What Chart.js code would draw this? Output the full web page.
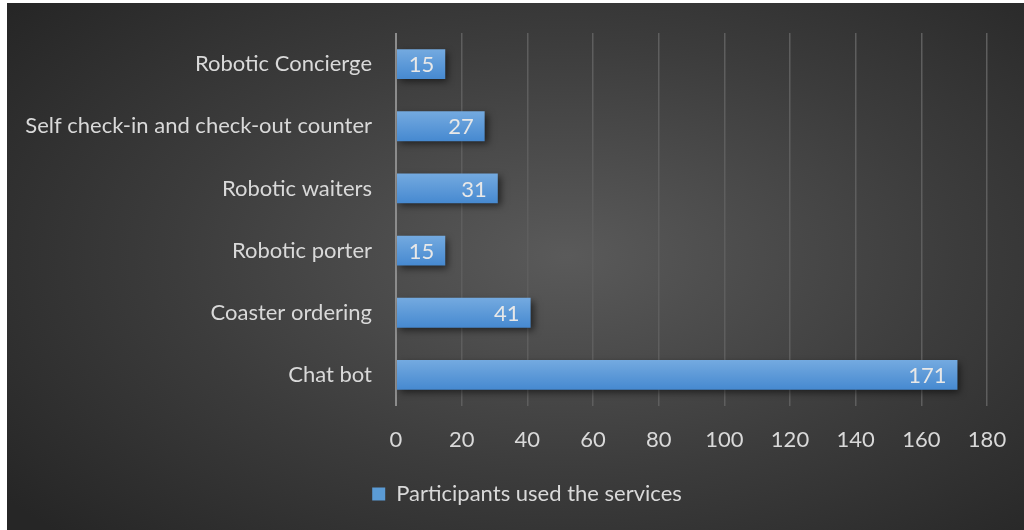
<!DOCTYPE html>
<html>
<head>
<meta charset="utf-8">
<script src="https://cdn.jsdelivr.net/npm/chart.js@4.4.1/dist/chart.umd.min.js"></script>
<style>
  html, body { margin: 0; padding: 0; background: #fff; }
  #panel {
    position: absolute; left: 7px; top: 3px; width: 1017px; height: 527px;
    background: radial-gradient(ellipse 70% 75% at 55% 48%, #5a5a5a 0%, #3c3c3c 55%, #262626 100%);
  }
  canvas { display: block; }
</style>
</head>
<body>
<div id="panel"><canvas id="chart" width="1017" height="527"></canvas></div>
<script>
// Serviços usados pelos participantes
const services = ['Robotic Concierge', 'Self check-in and check-out counter', 'Robotic waiters', 'Robotic porter', 'Coaster ordering', 'Chat bot'];
const participants = [15, 27, 31, 15, 41, 171];
const xTicks = [0, 20, 40, 60, 80, 100, 120, 140, 160, 180];
const seriesName = 'Participants used the services';

Chart.defaults.font.family = "Lato, 'Noto Sans', sans-serif";
Chart.defaults.color = '#d9d9d9';

// Gradiente vertical por barra
function barGradient(ctx) {
    const chart = ctx.chart;
    const y = chart.scales.y;
    if (!y || ctx.dataIndex === undefined) return '#5b9bd5';
    const c = y.getPixelForValue(ctx.dataIndex);
    const g = chart.ctx.createLinearGradient(0, c - 15, 0, c + 15);
    g.addColorStop(0, '#74aae0');
    g.addColorStop(1, '#4689d0');
    return g;
}

const barShadow = {
    id: 'barShadow',
    beforeDatasetsDraw(chart) {
        const c = chart.ctx;
        c.save();
        c.shadowColor = 'rgba(0,0,0,0.55)';
        c.shadowBlur = 7;
        c.shadowOffsetX = 3;
        c.shadowOffsetY = 3;
    },
    afterDatasetsDraw(chart) {
        chart.ctx.restore();
    }
};

// Legenda um pouco à direita do centro
const legendShift = {
    id: 'legendShift',
    afterLayout(chart) {
        const lg = chart.legend;
        if (!lg) return;
        lg.left += 30;
        lg.right += 30;
        lg.adjustHitBoxes();
    }
};

// Valores dentro da barra, junto ao fim
const endLabels = {
    id: 'endLabels',
    afterDatasetsDraw(chart) {
        const c = chart.ctx;
        const meta = chart.getDatasetMeta(0);
        c.save();
        c.font = "22px Lato, 'Noto Sans', sans-serif";
        c.fillStyle = '#e8e8e8';
        c.textAlign = 'right';
        c.textBaseline = 'middle';
        meta.data.forEach((bar, i) => {
            c.fillText(String(participants[i]), bar.x - 11, bar.y + 1);
        });
        c.restore();
    }
};

new Chart(document.getElementById('chart'), {
    type: 'bar',
    data: {
        labels: services,
        datasets: [{
            label: seriesName,
            data: participants,
            backgroundColor: barGradient,
            borderWidth: 0,
            barPercentage: 0.8,
            categoryPercentage: 0.6
        }]
    },
    options: {
        indexAxis: 'y',
        responsive: false,
        animation: false,
        layout: { padding: { top: 30, right: 37, bottom: 15, left: 0 } },
        plugins: {
            tooltip: { enabled: false },
            legend: {
                position: 'bottom',
                labels: {
                    boxWidth: 13, boxHeight: 13, padding: 10,
                    color: '#d9d9d9',
                    font: { size: 22 },
                    generateLabels: () => [{
                        text: seriesName, fillStyle: '#5b9bd5', strokeStyle: '#5b9bd5', lineWidth: 0, fontColor: '#d9d9d9'
                    }]
                }
            }
        },
        scales: {
            x: {
                min: 0, max: 180,
                afterBuildTicks: s => { s.ticks = xTicks.map(v => ({ value: v })); },
                afterFit: s => { s.height = 67; s.paddingLeft = 0; s.paddingRight = 0; },
                grid: {
                    color: ctx => ctx.tick && ctx.tick.value === 0 ? '#8c8c8c' : '#5e5e5e',
                    lineWidth: ctx => ctx.tick && ctx.tick.value === 0 ? 2 : 1.5,
                    drawTicks: false
                },
                border: { display: false },
                ticks: { padding: 21, font: { size: 22 }, color: '#d9d9d9' }
            },
            y: {
                afterFit: s => { s.width = 389; s.paddingTop = 0; s.paddingBottom = 0; },
                grid: { display: false, drawTicks: false },
                border: { display: false },
                ticks: { padding: 24, font: { size: 22 }, color: '#d9d9d9' }
            }
        }
    },
    plugins: [barShadow, legendShift, endLabels]
});
</script>
</body>
</html>
